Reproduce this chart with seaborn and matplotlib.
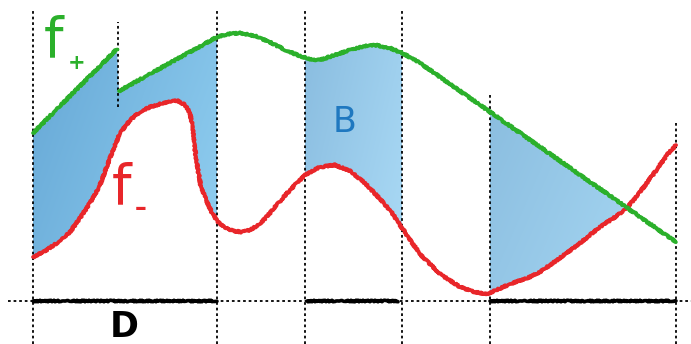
import numpy as np
import matplotlib
matplotlib.use("Agg")
import matplotlib.pyplot as plt
import seaborn as sns
from matplotlib.colors import LinearSegmentedColormap

# ==========================================================
# DATA (x along the axis, height above the axis line)
# ==========================================================
fminus_x = [33, 45, 60, 70, 80, 90, 100, 110, 120, 130, 140, 150, 160, 170, 178,
            185, 190, 193, 195, 198, 201, 206, 212, 218, 226, 234, 242, 250, 260,
            270, 280, 290, 305, 320, 335, 350, 365, 380, 392, 402, 420, 440, 460,
            475, 485, 490, 510, 530, 540, 560, 580, 600, 615, 627, 640, 655, 667, 676]
fminus_y = [44, 50, 60, 69, 83, 98, 116, 143, 168, 181, 189, 194, 197, 200, 200,
            196, 188, 171, 151, 131, 114, 101, 88, 79, 73, 70, 69, 71, 77,
            88, 100, 111, 126, 134, 136, 130, 118, 102, 88, 73, 47, 27, 14,
            9, 7, 8, 17, 24, 29, 43, 58, 74, 84, 93, 109, 129, 146, 156]

# f+ has a jump at x = 117
fplus1_x = [33, 117]
fplus1_y = [168, 252]
fplus2_x = [119, 217, 228, 240, 255, 270, 285, 300, 310, 320, 335, 350, 365,
            375, 390, 402, 415, 430, 676]
fplus2_y = [210, 264, 267, 268, 265, 259, 251, 245, 242, 241, 246, 251, 255,
            256, 253, 248, 241, 231, 59]

# domain D (pieces on the axis)
domain_start = [33, 307, 490]
domain_end = [217, 398, 676]

# regions of B that get filled
region_start = [33, 305, 490]
region_end = [217, 402, 676]

# dotted guide lines: x, top height
guide_x = [33, 118, 217, 305, 402, 490, 676]
guide_top = [290, 279, 290, 290, 290, 206, 179]
guide_bottom = [-43, 194, -43, -43, -43, -43, -43]

GREEN = "#2bb02b"
RED = "#e8262a"
BLUE_TEXT = "#1f78c0"
region_colors = [("#66a8d6", "#90cef0"), ("#8abde0", "#a8d8f4"), ("#8bbee0", "#aadaf5")]

# ==========================================================
# FIGURE
# ==========================================================
sns.set_style("white")
fig = plt.figure(figsize=(6.91, 3.44), dpi=100)
ax = fig.add_axes([0, 0, 1, 1])
ax.axis("off")

# gradient fills between f+ and f-
xf = np.array(fplus1_x + fplus2_x, dtype=float)
yf = np.array(fplus1_y + fplus2_y, dtype=float)
for a, b, (c0, c1) in zip(region_start, region_end, region_colors):
    xx = np.linspace(a, b, 600)
    top = np.interp(xx, xf, yf)
    bot = np.interp(xx, fminus_x, fminus_y)
    mask = top >= bot
    poly = ax.fill_between(xx, bot, top, where=mask, interpolate=True,
                           facecolor="none", edgecolor="none")
    path = poly.get_paths()[0]
    lo, hi = bot[mask].min(), top[mask].max()
    u, v = np.meshgrid(np.linspace(0, 1, 200), np.linspace(0, 1, 200))
    grad = 0.7 * u + 0.3 * (1 - v)
    cmap = LinearSegmentedColormap.from_list("g", [c0, c1])
    im = ax.imshow(grad, extent=[a, b, lo, hi], origin="lower", cmap=cmap,
                   aspect="auto", zorder=1, interpolation="bicubic")
    im.set_clip_path(path, transform=ax.transData)

# dotted guides and axis
ax.vlines(guide_x, guide_bottom, guide_top, colors="black", linewidth=1.3,
          linestyles=(0, (1.5, 1.6)), zorder=2)
ax.hlines(0, 8, 691, colors="black", linewidth=1.3,
          linestyles=(0, (1.5, 1.6)), zorder=2)

# domain D
for s, e in zip(domain_start, domain_end):
    ln, = ax.plot([s, e], [0, 0], color="black", linewidth=2.6, zorder=3)
    ln.set_sketch_params(0.8, 2, 2)

# curves
sns.lineplot(x=fminus_x, y=fminus_y, color=RED, linewidth=2.7, ax=ax, zorder=4)
sns.lineplot(x=fplus1_x, y=fplus1_y, color=GREEN, linewidth=2.7, ax=ax, zorder=4)
sns.lineplot(x=fplus2_x, y=fplus2_y, color=GREEN, linewidth=2.7, ax=ax, zorder=4)
for ln in ax.lines[-3:]:
    ln.set_sketch_params(0.9, 2, 2)
    ln.set_solid_capstyle("round")

# labels
ax.text(54, 260, "f", color=GREEN, fontsize=40, ha="center", va="center")
ax.text(77, 238, "+", color=GREEN, fontsize=15, ha="center", va="center", fontweight="bold")
ax.text(122, 113, "f", color=RED, fontsize=40, ha="center", va="center")
ax.text(141, 93, "\u2013", color=RED, fontsize=17, ha="center", va="center", fontweight="bold")
ax.text(345, 179, "B", color=BLUE_TEXT, fontsize=25, ha="center", va="center")
ax.text(124, -26, "D", color="black", fontsize=25, ha="center", va="center", fontweight="bold")

ax.set_xlim(0, 691)
ax.set_ylim(-43, 301)
fig.savefig("out.png", dpi=100)
